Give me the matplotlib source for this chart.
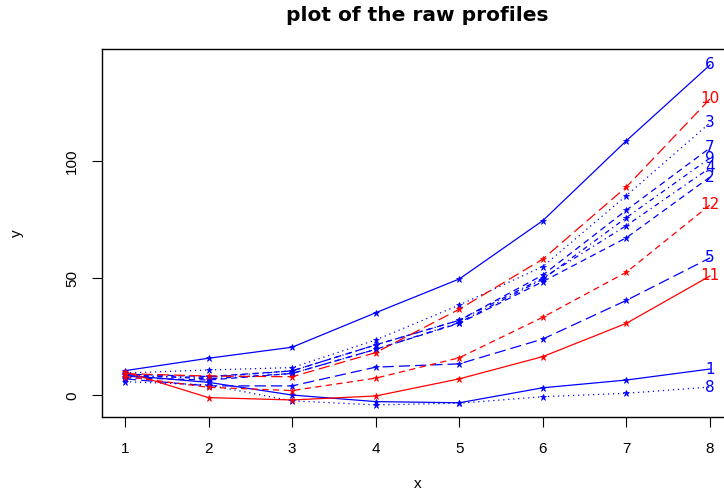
import numpy as np
import matplotlib
matplotlib.use('Agg')
import matplotlib.pyplot as plt

plt.rcParams['font.family'] = ['Liberation Sans', 'DejaVu Sans']

# time points
x = [1, 2, 3, 4, 5, 6, 7, 8]

# one profile per subject
p1 = [8.5, 5.5, 0.1, -2.7, -3.2, 3.2, 6.5, 11.2]
p2 = [7.5, 6.5, 9.3, 19.6, 30.7, 48.5, 67.2, 93.1]
p3 = [9.5, 10.8, 11.8, 23.6, 38.5, 54.9, 85.2, 116.2]
p4 = [8.0, 7.7, 10.4, 21.5, 32.0, 50.0, 72.4, 97.0]
p5 = [7.0, 4.0, 4.0, 12.0, 13.4, 24.0, 40.5, 58.6]
p6 = [10.5, 15.8, 20.5, 35.2, 49.6, 74.5, 108.6, 140.9]
p7 = [9.0, 8.0, 10.4, 21.5, 32.0, 51.3, 79.0, 105.5]
p8 = [5.8, 4.4, -2.4, -4.1, -3.4, -0.6, 0.85, 3.5]
p9 = [8.8, 7.0, 9.3, 19.6, 31.0, 49.5, 75.8, 101.2]
p10 = [9.2, 8.2, 7.9, 18.2, 36.7, 58.1, 88.9, 126.4]
p11 = [10.0, -1.0, -2.0, -0.3, 7.0, 16.5, 30.7, 50.9]
p12 = [8.0, 3.4, 2.0, 7.3, 16.0, 33.3, 52.5, 81.2]

profiles = [p1, p2, p3, p4, p5, p6, p7, p8, p9, p10, p11, p12]
labels = [str(i) for i in range(1, 13)]
colors = ['blue'] * 9 + ['red'] * 3

# R matplot line types cycle 1:5
ltys = [
    '-',
    (0, (5, 3.5)),
    (0, (1, 3)),
    (0, (1, 3, 4, 3)),
    (0, (9, 4)),
]

fig = plt.figure(figsize=(7.24, 4.93), dpi=100)
ax = fig.add_axes([0.1403, 0.1542, 0.8727, 0.7464])

for i, (y, lab, col) in enumerate(zip(profiles, labels, colors)):
    ls = ltys[i % 5]
    ax.plot(x, y, color=col, linestyle=ls, lw=0.9, zorder=2)
    ax.plot(x[:-1], y[:-1], linestyle='none', marker='*', markersize=5,
            color=col, markeredgewidth=0.5, zorder=3)
    # subject number replaces the last point
    ax.text(x[-1], y[-1], lab, color=col, fontsize=11, family='DejaVu Sans',
            ha='center', va='center', zorder=4)

ax.set_xlim(0.72, 8.28)
ax.set_ylim(-9.26, 147.7)
ax.set_xticks(x)
ax.set_yticks([0, 50, 100])
ax.set_yticklabels(['0', '50', '100'], rotation=90, va='center')
ax.tick_params(axis='both', direction='out', length=7, width=0.8, labelsize=11)
ax.tick_params(axis='x', pad=11)
ax.tick_params(axis='y', pad=9)

for s in ax.spines.values():
    s.set_linewidth(1.0)

ax.set_xlabel('x', fontsize=11, labelpad=15)
ax.set_ylabel('y', fontsize=11, labelpad=30)
# title centred over the plot region, like R's main=
fig.text(0.5766, 0.968, 'plot of the raw profiles', fontsize=14.5,
         family='DejaVu Sans', weight='bold', ha='center', va='center')

fig.savefig('out.png', dpi=100)
